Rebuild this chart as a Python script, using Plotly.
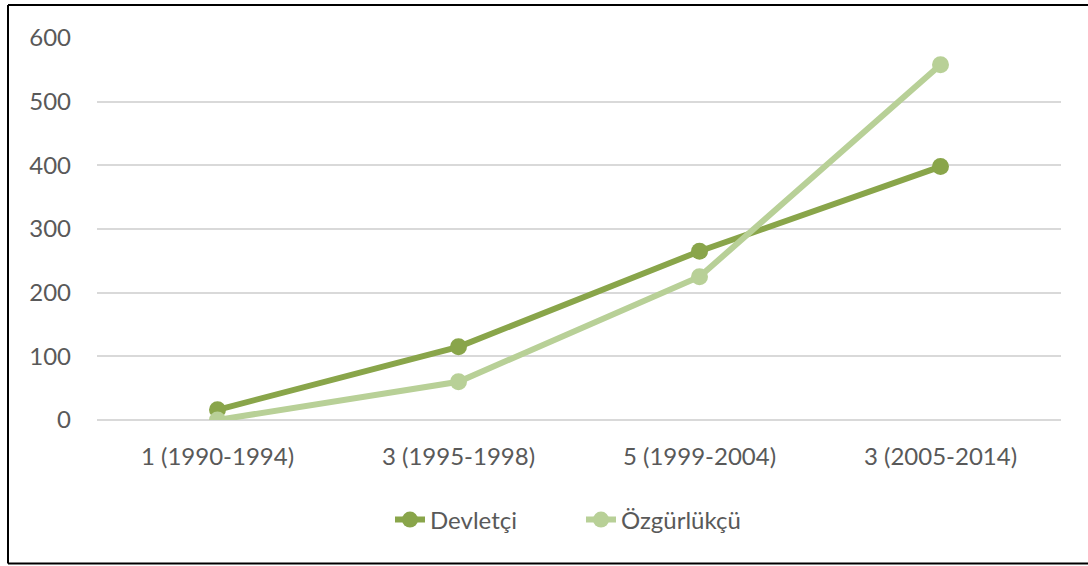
import plotly.graph_objects as go

categories = ["1 (1990-1994)", "3 (1995-1998)", "5 (1999-2004)", "3 (2005-2014)"]
devletci = [16, 115, 265, 398]
ozgurlukcu = [0, 60, 225, 558]
y_ticks = [0, 100, 200, 300, 400, 500, 600]

W, H = 1088, 566
L, R, T, B = 97, 27, 38, 146
pw, ph = W - L - R, H - T - B


def px_x(p):
    return (p - L) / pw


def px_y(p):
    return (H - B - p) / ph


fig = go.Figure()
fig.add_trace(go.Scatter(x=categories, y=devletci, name="Devletçi", mode="lines+markers",
                         line=dict(color="#89A54A", width=6),
                         marker=dict(size=17, color="#89A54A")))
fig.add_trace(go.Scatter(x=categories, y=ozgurlukcu, name="Özgürlükçü", mode="lines+markers",
                         line=dict(color="#B8D097", width=6),
                         marker=dict(size=17, color="#B8D097")))

font = dict(family="Lato, 'Open Sans', sans-serif", size=24, color="#595959")

border = dict(color="black", width=2)
frame = [
    dict(type="line", xref="paper", yref="paper", x0=px_x(8), x1=px_x(1100),
         y0=px_y(5), y1=px_y(5), line=border, layer="below"),
    dict(type="line", xref="paper", yref="paper", x0=px_x(8), x1=px_x(1100),
         y0=px_y(563.5), y1=px_y(563.5), line=border, layer="below"),
    dict(type="line", xref="paper", yref="paper", x0=px_x(8), x1=px_x(8),
         y0=px_y(5), y1=px_y(563.5), line=border, layer="below"),
]

fig.update_layout(
    width=W, height=H,
    margin=dict(l=L, r=R, t=T, b=B, autoexpand=False),
    paper_bgcolor="white", plot_bgcolor="white",
    font=font,
    showlegend=True,
    legend=dict(orientation="h", x=px_x(390), xanchor="left",
                y=px_y(520), yanchor="middle",
                font=font, traceorder="normal",
                entrywidth=146, entrywidthmode="pixels"),
    xaxis=dict(type="category", range=[-0.5, 3.5], showgrid=False, showline=False,
               zeroline=False, ticks="", tickfont=font, ticklabelstandoff=20),
    yaxis=dict(range=[0, 600], tickvals=y_ticks, showgrid=True, gridcolor="#D9D9D9",
               gridwidth=1.5, zeroline=True, zerolinecolor="#D9D9D9", zerolinewidth=1.5,
               showline=False, ticks="", tickfont=font, ticklabelstandoff=25),
    shapes=frame,
)

fig.write_html(
    "out.html",
    config={"displayModeBar": False},
    post_script=(
        "document.body.style.margin='0';"
        "document.body.style.overflow='hidden';"
        "document.documentElement.style.overflow='hidden';"
    ),
)
